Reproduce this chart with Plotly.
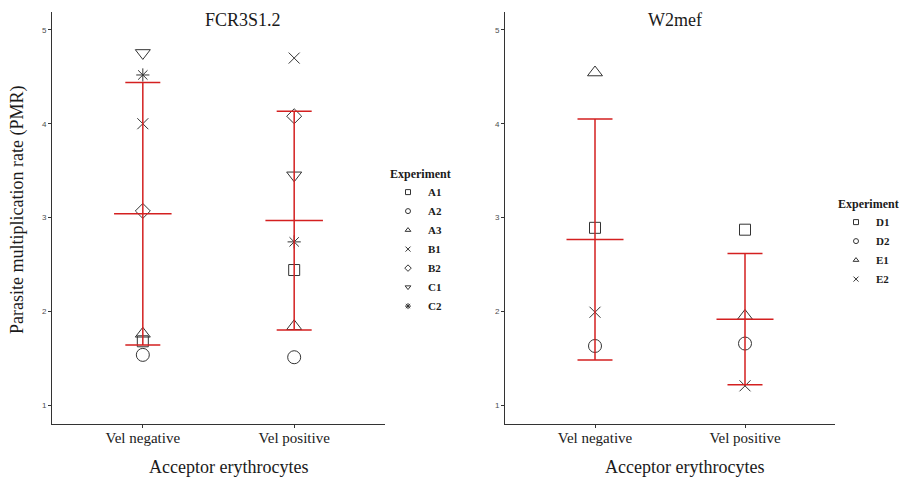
import plotly.graph_objects as go

# ---------------- data ----------------
categories = ["Vel negative", "Vel positive"]

fcr_experiments = ["A1", "A2", "A3", "B1", "B2", "C1", "C2"]
fcr_vel_negative = [1.68, 1.535, 1.76, 4.00, 3.07, 4.755, 4.52]
fcr_vel_positive = [2.44, 1.51, 1.84, 4.70, 4.08, 3.45, 2.74]
fcr_mean = [3.04, 2.967]
fcr_sd = [1.40, 1.167]

w2_experiments = ["D1", "D2", "E1", "E2"]
w2_vel_negative = [2.89, 1.63, 4.546, 1.99]
w2_vel_positive = [2.87, 1.656, 1.95, 1.205]
w2_mean = [2.765, 1.916]
w2_sd = [1.285, 0.70]

y_ticks = [1, 2, 3, 4, 5]

# ---------------- style ----------------
OFF = 8                       # default page body margin
W, H = 913 - OFF, 480 - OFF   # figure size so it fits the window


def px(x):
    return (x - OFF) / W


def py(y):
    return 1 - (y - OFF) / H


SERIF = "Liberation Serif"
RED = "#d42020"
PT = "#333333"
TXT = "#1a1a1a"
symbols = {
    "A1": "square-open", "A2": "circle-open", "A3": "triangle-up-open",
    "B1": "x-thin-open", "B2": "diamond-open", "C1": "triangle-down-open",
    "C2": "asterisk-open",
    "D1": "square-open", "D2": "circle-open", "E1": "triangle-up-open",
    "E2": "x-thin-open",
}
sizes = {
    "square-open": 11, "circle-open": 13, "triangle-up-open": 13,
    "x-thin-open": 11, "diamond-open": 11.5, "triangle-down-open": 13,
    "asterisk-open": 11,
}
MEAN_HW = 0.19

fig = go.Figure()


def add_panel(xa, ya, exps, neg, pos, mean, sd, legend):
    xpos = list(range(len(categories)))
    for i, e in enumerate(exps):
        sym = symbols[e]
        fig.add_trace(go.Scatter(
            x=xpos, y=[neg[i], pos[i]], mode="markers", xaxis=xa, yaxis=ya,
            marker=dict(symbol=sym, size=sizes[sym], color=PT,
                        line=dict(color=PT, width=1)),
            showlegend=False, hoverinfo="skip"))
        fig.add_trace(go.Scatter(
            x=[None], y=[None], mode="markers", xaxis=xa, yaxis=ya, name=e,
            marker=dict(symbol=sym, size=5, color=PT, line=dict(color=PT, width=1)),
            legend=legend, showlegend=True))
    mx, my = [], []
    for i, m in enumerate(mean):
        mx += [xpos[i] - MEAN_HW, xpos[i] + MEAN_HW, None]
        my += [m, m, None]
    fig.add_trace(go.Scatter(x=mx, y=my, mode="lines", xaxis=xa, yaxis=ya,
                             line=dict(color=RED, width=1.5),
                             showlegend=False, hoverinfo="skip"))
    fig.add_trace(go.Scatter(
        x=xpos, y=mean, mode="markers", xaxis=xa, yaxis=ya,
        marker=dict(size=1, opacity=0),
        error_y=dict(type="data", array=sd, visible=True, color=RED,
                     thickness=1.5, width=17.5),
        showlegend=False, hoverinfo="skip"))


add_panel("x", "y", fcr_experiments, fcr_vel_negative, fcr_vel_positive,
          fcr_mean, fcr_sd, "legend")
add_panel("x2", "y2", w2_experiments, w2_vel_negative, w2_vel_positive,
          w2_mean, w2_sd, "legend2")

y_dom = [py(424), py(12)]
xaxis_common = dict(
    range=[-0.6, 1.6], tickvals=[0, 1], ticktext=categories,
    showline=True, linecolor=PT, linewidth=1, showgrid=False, zeroline=False,
    ticks="outside", ticklen=3, tickcolor=PT, automargin=False,
    ticklabelstandoff=-3,
    tickfont=dict(family=SERIF, size=15, color=TXT),
)
yaxis_common = dict(
    range=[0.798, 5.1915], tickvals=y_ticks,
    showline=True, linecolor=PT, linewidth=1, showgrid=False, zeroline=False,
    ticks="outside", ticklen=3, tickcolor=PT, automargin=False,
    tickfont=dict(family="Liberation Sans", size=8, color="#4d4d4d"),
    domain=y_dom,
)

legend_common = dict(
    bgcolor="rgba(0,0,0,0)", xanchor="left", yanchor="top",
    font=dict(family=SERIF, size=11, color=TXT, weight="bold"),
    title=dict(text="<b>Experiment</b>",
               font=dict(family=SERIF, size=12, color=TXT)),
    itemwidth=30, tracegroupgap=0,
)


def ann(text, x, y, size, angle=0):
    return dict(text=text, x=px(x), y=py(y), xref="paper", yref="paper",
                xanchor="center", yanchor="middle", textangle=angle,
                showarrow=False, font=dict(family=SERIF, size=size, color=TXT))


fig.update_layout(
    width=W, height=H, margin=dict(l=0, r=0, t=0, b=0, autoexpand=False),
    paper_bgcolor="white", plot_bgcolor="white",
    xaxis=dict(domain=[px(52), px(385)], anchor="y", **xaxis_common),
    xaxis2=dict(domain=[px(505), px(835)], anchor="y2", **xaxis_common),
    yaxis=dict(anchor="x", **yaxis_common),
    yaxis2=dict(anchor="x2", **yaxis_common),
    legend=dict(x=px(388), y=py(162), **legend_common),
    legend2=dict(x=px(836), y=py(192), **legend_common),
    annotations=[
        ann("FCR3S1.2", 243, 20, 18),
        ann("W2mef", 675, 20, 18),
        ann("Acceptor erythrocytes", 228, 467, 18),
        ann("Acceptor erythrocytes", 684, 467, 18),
        ann("Parasite multiplication rate (PMR)", 17, 210, 18, -90),
    ],
)

fig.write_html("out.html")
